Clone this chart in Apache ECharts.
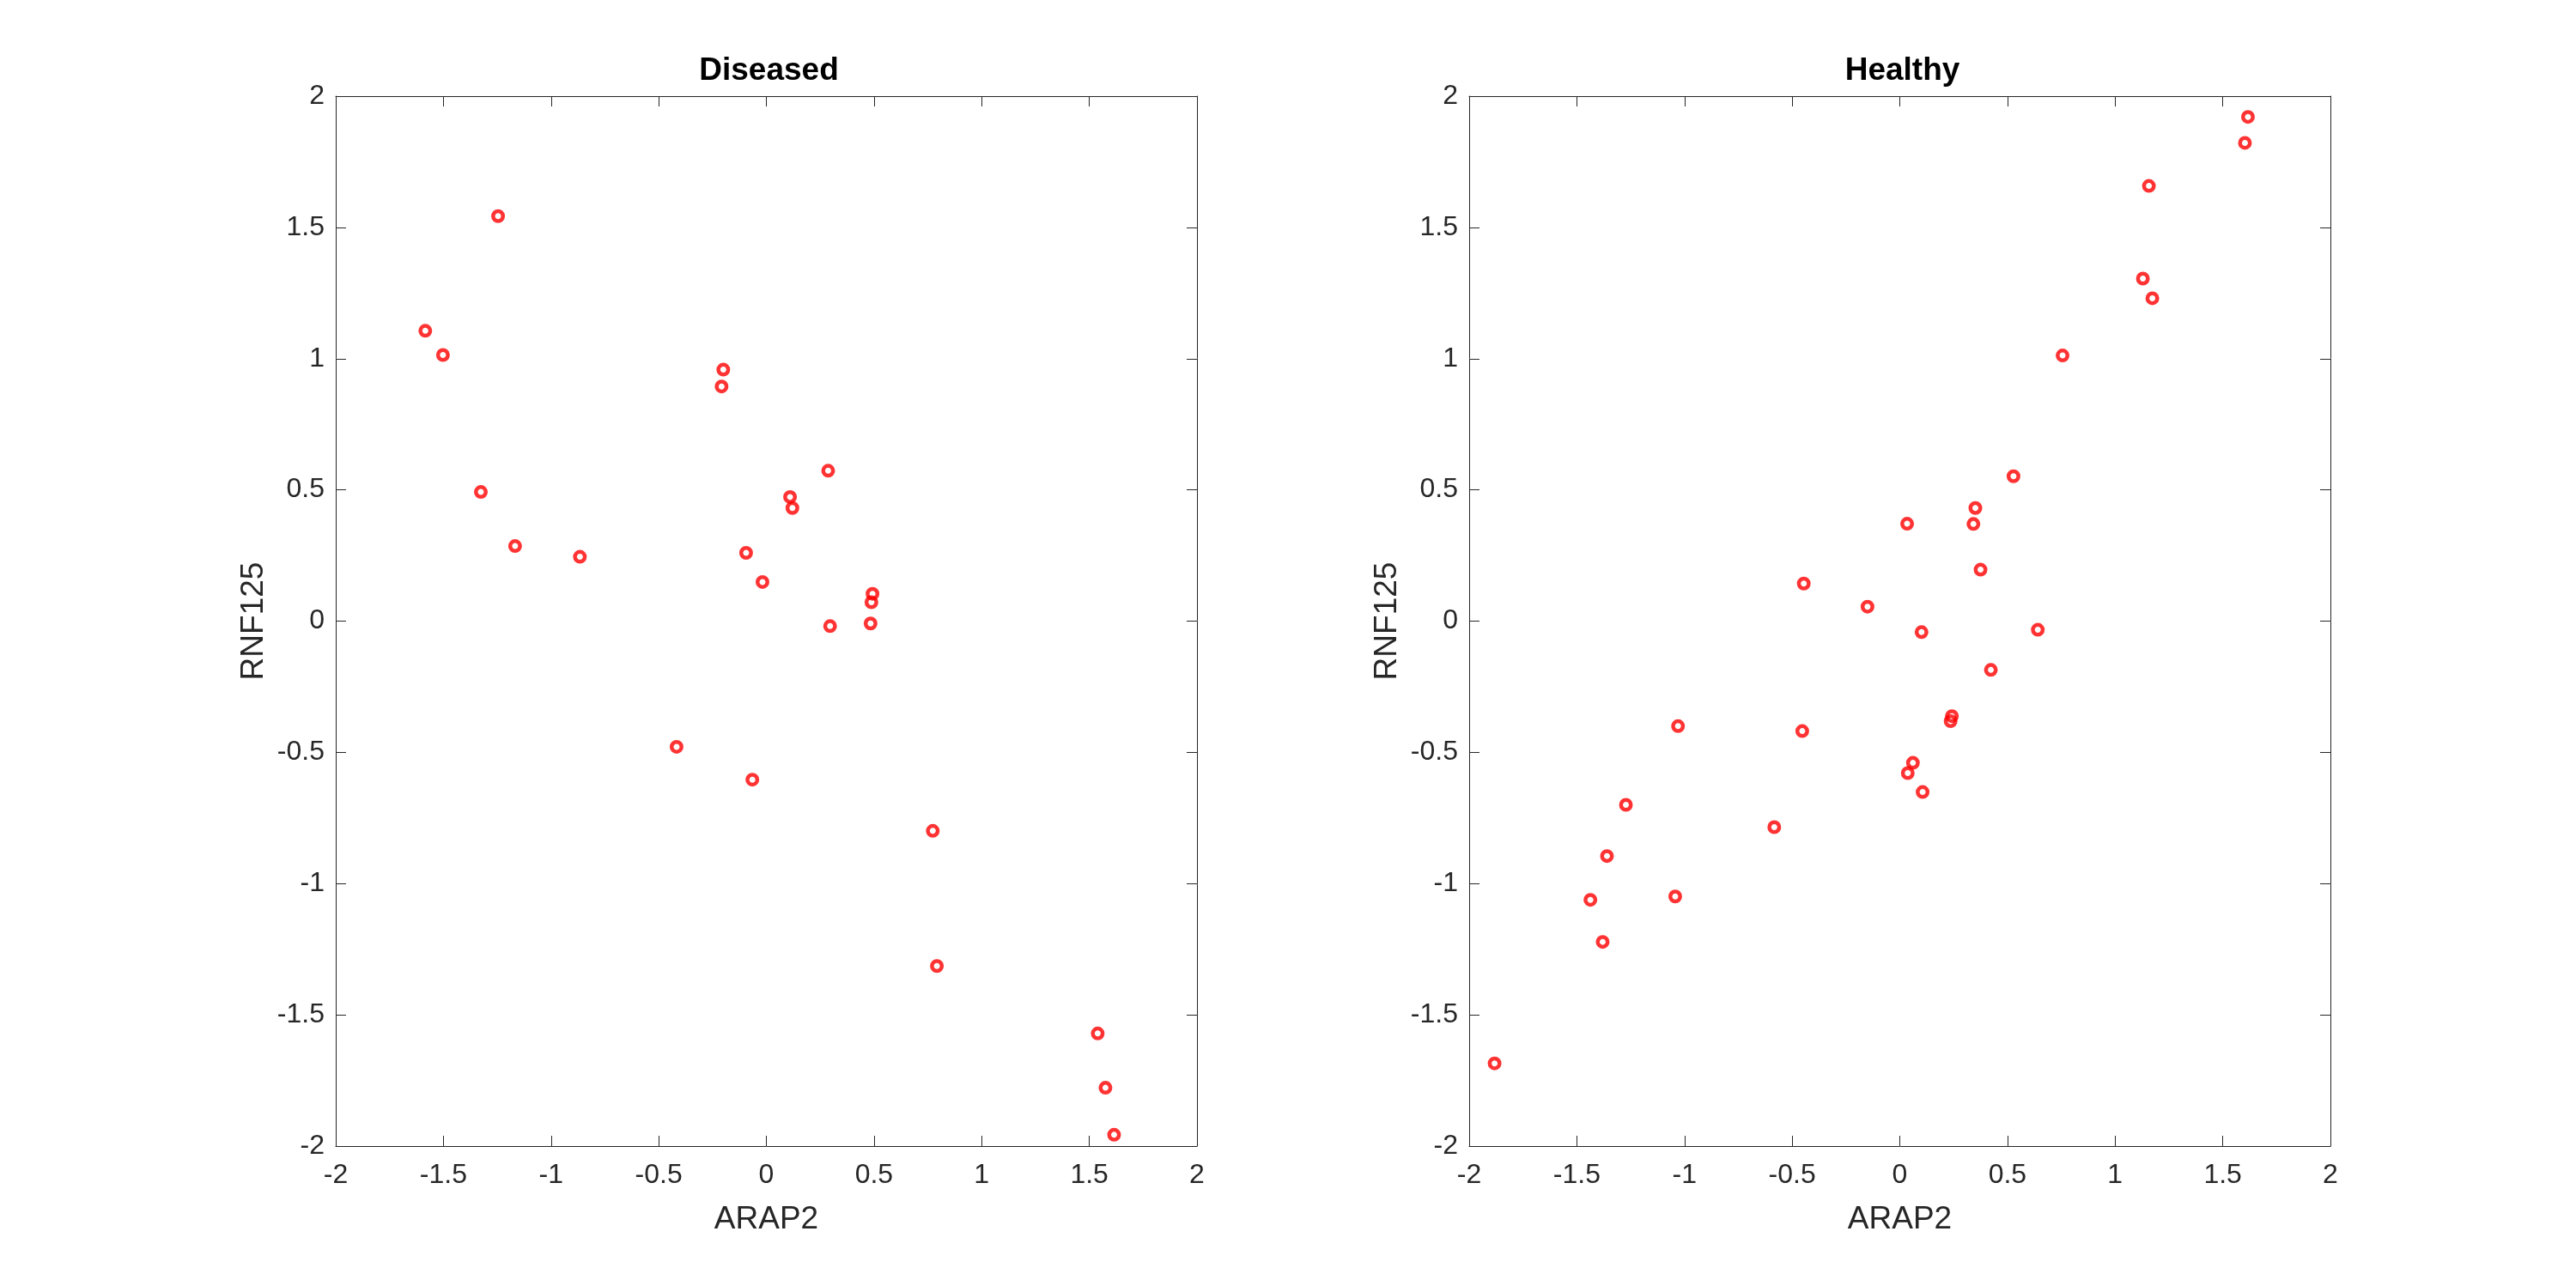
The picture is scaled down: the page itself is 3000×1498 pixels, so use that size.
<!DOCTYPE html>
<html>
<head>
<meta charset="utf-8">
<title>ARAP2 vs RNF125</title>
<script src="https://cdn.jsdelivr.net/npm/echarts@6/dist/echarts.min.js"></script>
<style>
  html, body { margin: 0; padding: 0; background: #fff; }
  #chart { width: 3000px; height: 1498px; }
</style>
</head>
<body>
<div id="chart"></div>
<script>
// panel titles + axis names
const panelTitles = ["Diseased", "Healthy"];
const xName = "ARAP2";
const yName = "RNF125";

// axis range shared by both panels (ticks every 0.5)
const axisMin = -2;
const axisMax = 2;
const tickStep = 0.5;

// Diseased: ARAP2 (x) vs RNF125 (y)
const diseasedX = [-1.584, -1.502, -1.246, -0.200, -0.208, -1.326, -1.167, -0.866, -0.094, -0.018,
  0.110, 0.121, 0.287, 0.296, 0.493, 0.488, 0.484, -0.417, -0.065, 0.773, 0.792, 1.539, 1.575, 1.615];
const diseasedY = [1.106, 1.014, 1.543, 0.958, 0.894, 0.492, 0.286, 0.245, 0.260, 0.149,
  0.473, 0.431, 0.573, -0.019, 0.104, 0.072, -0.009, -0.479, -0.604, -0.799, -1.314, -1.571, -1.778, -1.957];

// Healthy
const healthyX = [1.617, 1.603, 1.157, 1.129, 1.173, 0.756, 0.528, 0.351, 0.342, 0.034,
  0.375, -0.446, -0.150, 0.101, 0.641, 0.423, 0.242, 0.236, -1.030, -0.453,
  0.061, 0.037, 0.106, -1.272, -0.583, -1.360, -1.437, -1.043, -1.380, -1.882];
const healthyY = [1.921, 1.822, 1.658, 1.305, 1.230, 1.012, 0.552, 0.431, 0.370, 0.371,
  0.196, 0.143, 0.055, -0.042, -0.033, -0.186, -0.362, -0.381, -0.400, -0.419,
  -0.540, -0.579, -0.651, -0.700, -0.785, -0.895, -1.062, -1.049, -1.222, -1.685];

const AXIS_COLOR = "#262626";
const FONT = "'Liberation Sans', Arial, Helvetica, sans-serif";
const grids = [
  { left: 391, top: 112, width: 1003, height: 1223 },
  { left: 1711, top: 112, width: 1003, height: 1223 },
];

function pairs(xs, ys) {
  return xs.map((x, i) => [x, ys[i]]);
}

// one side of the box; top/right copies only carry the inward ticks
function valueAxis(gridIndex, position, withLabels, name) {
  const ax = {
    type: "value",
    gridIndex,
    position,
    min: axisMin,
    max: axisMax,
    interval: tickStep,
    axisLine: { show: true, onZero: false, lineStyle: { color: AXIS_COLOR, width: 1 } },
    axisTick: { show: true, inside: true, length: 12, lineStyle: { color: AXIS_COLOR, width: 1 } },
    splitLine: { show: false },
    axisLabel: { show: withLabels, color: AXIS_COLOR, fontSize: 32, fontFamily: FONT, margin: position === "bottom" ? 18 : 13 },
  };
  if (name) {
    ax.name = name;
    ax.nameLocation = "middle";
    ax.nameTextStyle = { color: AXIS_COLOR, fontSize: 37, fontFamily: FONT };
    ax.nameGap = position === "left" ? 77 : 67;
  }
  return ax;
}

const xAxes = [];
const yAxes = [];
grids.forEach((g, i) => {
  xAxes.push(valueAxis(i, "bottom", true, xName), valueAxis(i, "top", false));
  yAxes.push(valueAxis(i, "left", true, yName), valueAxis(i, "right", false));
});

const markerStyle = { color: "rgba(0,0,0,0)", borderColor: "#ff0000", borderWidth: 4.5 };

const chart = echarts.init(document.getElementById("chart"), null, { renderer: "canvas" });
chart.setOption({
  animation: false,
  backgroundColor: "#ffffff",
  title: panelTitles.map((t, i) => ({
    text: t,
    left: grids[i].left + grids[i].width / 2 + 3,
    top: 64,
    padding: 0,
    textAlign: "center",
    textStyle: { color: "#000", fontSize: 37, fontWeight: "bold", fontFamily: FONT },
  })),
  grid: grids,
  xAxis: xAxes,
  yAxis: yAxes,
  series: [
    {
      type: "scatter",
      xAxisIndex: 0,
      yAxisIndex: 0,
      symbol: "circle",
      symbolSize: 11.5,
      itemStyle: markerStyle,
      data: pairs(diseasedX, diseasedY),
    },
    {
      type: "scatter",
      xAxisIndex: 2,
      yAxisIndex: 2,
      symbol: "circle",
      symbolSize: 11.5,
      itemStyle: markerStyle,
      data: pairs(healthyX, healthyY),
    },
  ],
});
</script>
</body>
</html>
